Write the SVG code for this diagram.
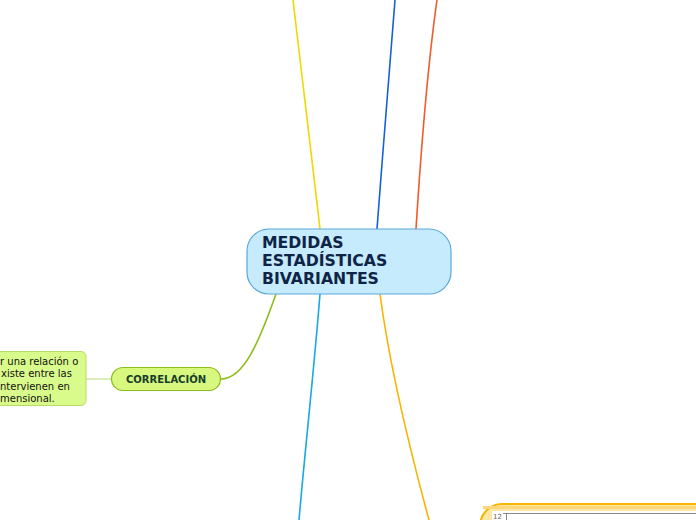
<svg xmlns="http://www.w3.org/2000/svg" width="696" height="520" viewBox="0 0 696 520">
<style>
.conn{fill:none;stroke-width:1.6;stroke-linecap:round}
.main{font-family:"DejaVu Sans",Verdana,sans-serif;font-weight:bold;font-size:15.7px;fill:#0e2447}
.sub{font-family:"DejaVu Sans",Verdana,sans-serif;font-weight:bold;font-size:10px;fill:#173d2b;text-anchor:middle}
.note{font-family:"DejaVu Sans",Verdana,sans-serif;font-size:10px;fill:#111}
</style>
<rect width="696" height="520" fill="#ffffff"/>
<g id="connectors">
<path class="conn" stroke="#f0d800" d="M320,229 C311,150 301,70 293,0"/>
<path class="conn" stroke="#1560d8" d="M377,229 C383,150 390,60 395,0"/>
<path class="conn" stroke="#f25a2a" d="M416,229 C421,150 427,70 437,0"/>
<path class="conn" stroke="#17a8e6" d="M320,294 C314,370 305,450 299,520"/>
<path class="conn" stroke="#f8b400" d="M380,294 C390,370 410,450 429,520"/>
<path class="conn" stroke="#8cbd1a" d="M276,294 C258,345 243,379 221,379"/>
<path class="conn" stroke="#cfe8a8" stroke-width="1.2" d="M86,379 L111,379"/>
</g>
<g id="node-central">
<rect x="247" y="229" width="204" height="65" rx="22" fill="#c6ebfc" stroke="#5aa7dc" stroke-width="1.2"/>
<text class="main" x="262" y="248">MEDIDAS</text>
<text class="main" x="262" y="266">ESTADÍSTICAS</text>
<text class="main" x="262" y="284">BIVARIANTES</text>
</g>
<g id="node-correlacion">
<rect x="111.5" y="367.5" width="109" height="23" rx="11.5" fill="#d7f77e" stroke="#8cbd1a" stroke-width="1.2"/>
<text class="sub" x="166" y="383">CORRELACIÓN</text>
</g>
<g id="node-nota">
<rect x="-10" y="351.5" width="96" height="54" rx="5" fill="#d9fb8c" stroke="#b5dc66" stroke-width="1"/>
<text class="note" x="0" y="365">r una relación o</text>
<text class="note" x="1" y="377">xiste entre las</text>
<text class="note" x="0" y="390">ntervienen en</text>
<text class="note" x="0" y="402">mensional.</text>
</g>
<g id="node-grafico">
<rect x="480" y="504" width="260" height="60" rx="22" fill="#fee6a4" stroke="#f8b600" stroke-width="2"/>
<rect x="483" y="506" width="250" height="3" fill="#fdd77a"/>
<rect x="492" y="511" width="210" height="12" fill="#ffffff"/>
<text x="493" y="518.5" font-family="DejaVu Sans,sans-serif" font-size="7" fill="#666">12</text>
<path d="M503,513.5 H696 M506.5,513.5 V520" stroke="#888" stroke-width="1" fill="none"/>
</g>
</svg>
